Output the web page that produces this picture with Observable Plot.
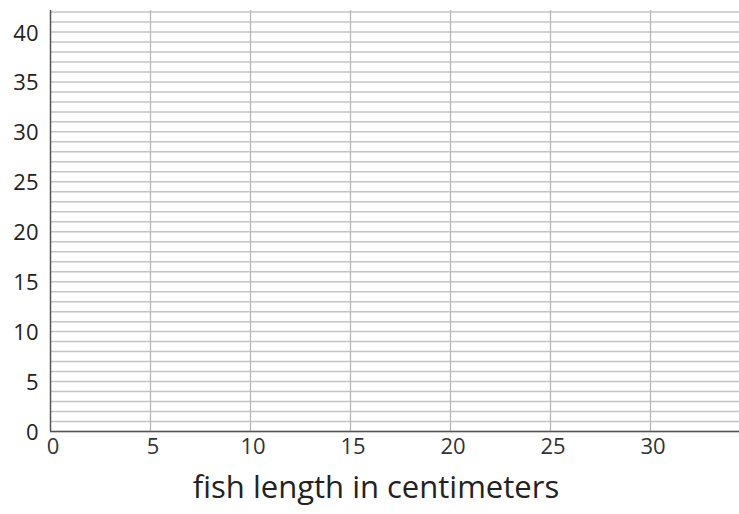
<!DOCTYPE html>
<html>
<head>
<meta charset="utf-8">
<script src="https://cdn.jsdelivr.net/npm/d3@7"></script>
<script src="https://cdn.jsdelivr.net/npm/@observablehq/plot@0.6"></script>
<style>
  html, body { margin: 0; padding: 0; background: #fff; }
  #chart svg { display: block; }
</style>
</head>
<body>
<div id="chart"></div>
<script>
const xTicks = [0, 5, 10, 15, 20, 25, 30];
const yTicks = [0, 5, 10, 15, 20, 25, 30, 35, 40];
const xDomain = [0, 34.45];
const yDomain = [0, 42.15];
const xLabel = "fish length in centimeters";

const chart = Plot.plot({
  width: 739,
  height: 514,
  marginLeft: 50,
  marginRight: 0,
  marginTop: 10,
  marginBottom: 83,
  style: { fontFamily: "'Open Sans', sans-serif", background: "#fff" },
  x: { domain: xDomain, ticks: xTicks, label: null },
  y: { domain: yDomain, ticks: yTicks, label: null },
  marks: [
    Plot.gridY({ interval: 1, stroke: "#c4c4c4", strokeOpacity: 1, strokeWidth: 1.5 }),
    Plot.gridX({ ticks: xTicks.filter(d => d > 0), stroke: "#b8b8b8", strokeOpacity: 1, strokeWidth: 1.3 }),
    Plot.axisY({ ticks: yTicks, tickSize: 0, tickPadding: 12, dy: 1.5, fontSize: 22, fill: "#222", label: null }),
    Plot.axisX({ ticks: xTicks, tickSize: 0, tickPadding: 7, dx: 2.5, fontSize: 22, fill: "#333", label: null }),
    Plot.ruleX([0], { stroke: "#555", strokeWidth: 1.5 }),
    Plot.ruleY([0], { stroke: "#555", strokeWidth: 1.5 }),
    Plot.text([xLabel], {
      frameAnchor: "bottom",
      dx: -19,
      dy: 66,
      text: d => d,
      fontSize: 31,
      fill: "#222"
    })
  ]
});
document.getElementById("chart").appendChild(chart);
</script>
</body>
</html>
